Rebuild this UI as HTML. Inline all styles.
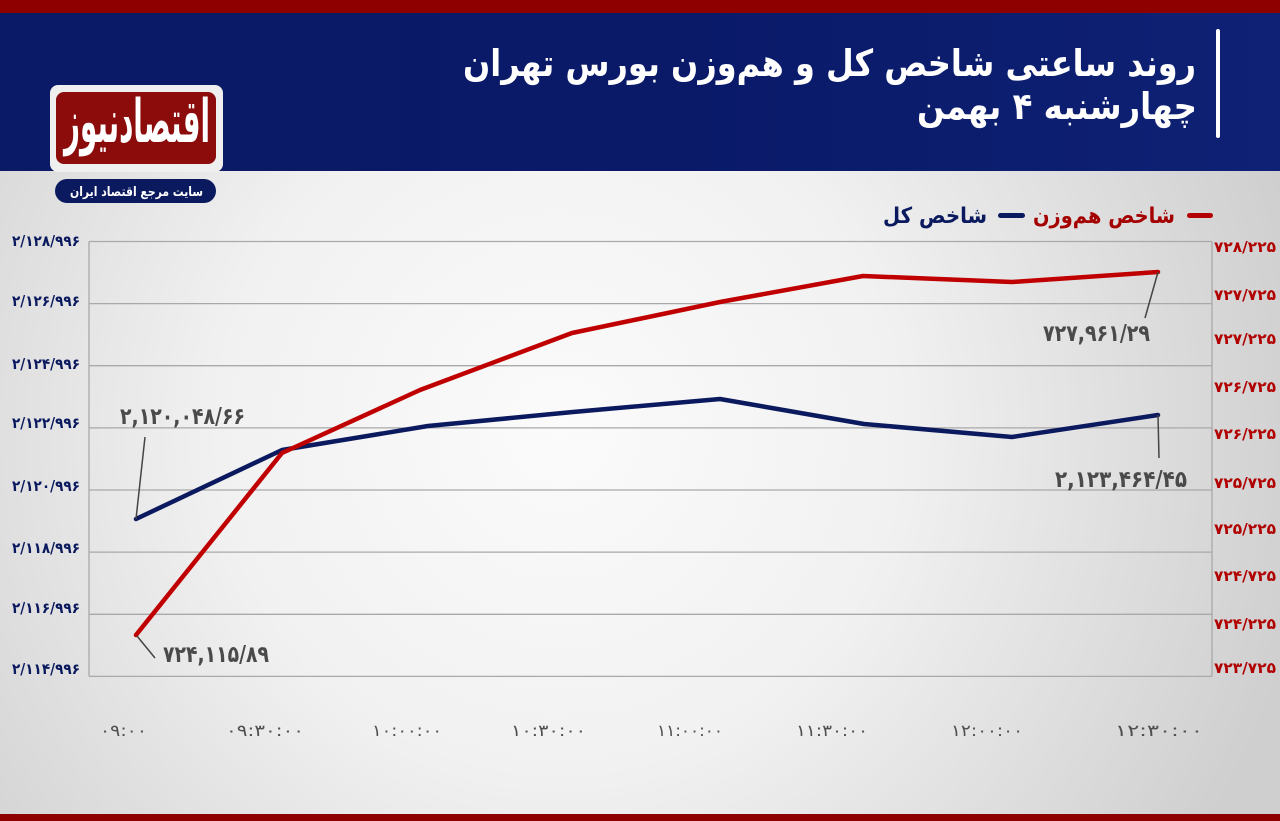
<!DOCTYPE html>
<html><head><meta charset="utf-8">
<style>
html,body{margin:0;padding:0;width:1280px;height:821px;overflow:hidden;background:#e8e8e8}
svg{display:block}
text{font-family:"DejaVu Sans","Liberation Sans",sans-serif}
</style></head>
<body>
<svg width="1280" height="821" viewBox="0 0 1280 821" xmlns="http://www.w3.org/2000/svg">
<defs>
<radialGradient id="bg" cx="560" cy="430" r="760" gradientUnits="userSpaceOnUse">
<stop offset="0" stop-color="#fbfbfb"/>
<stop offset="0.45" stop-color="#f1f1f1"/>
<stop offset="1" stop-color="#cfcfcf"/>
</radialGradient>
<linearGradient id="hd" x1="0" y1="0" x2="1" y2="0">
<stop offset="0" stop-color="#0b1a66"/>
<stop offset="0.5" stop-color="#0a1968"/>
<stop offset="1" stop-color="#0e2174"/>
</linearGradient>
<clipPath id="lc"><rect x="56" y="92" width="160" height="72" rx="8"/></clipPath>
</defs>
<rect x="0" y="0" width="1280" height="821" fill="url(#bg)"/>
<rect x="0" y="0" width="1280" height="13" fill="#8e0000"/>
<rect x="0" y="13" width="1280" height="158" fill="url(#hd)"/>
<rect x="0" y="814" width="1280" height="7" fill="#8e0000"/>

<!-- title -->
<text x="463" y="76" font-size="37" font-weight="bold" fill="#ffffff" textLength="733" lengthAdjust="spacingAndGlyphs">روند ساعتی شاخص کل و هم‌وزن بورس تهران</text>
<text x="917" y="119" font-size="37" font-weight="bold" fill="#ffffff" textLength="280" lengthAdjust="spacingAndGlyphs">چهارشنبه ۴ بهمن</text>
<rect x="1216" y="29" width="4" height="109" rx="2" fill="#ffffff"/>

<!-- logo -->
<rect x="50" y="85" width="173" height="87" rx="8" fill="#efefef"/>
<rect x="56" y="92" width="160" height="72" rx="8" fill="#8c0c0c"/>
<g clip-path="url(#lc)">
<g transform="translate(0,142) scale(1,1.3) translate(0,-142)">
<text x="64" y="142" font-size="46" font-weight="bold" fill="#ffffff" textLength="146" lengthAdjust="spacingAndGlyphs">اقتصادنیوز</text>
</g>
</g>
<rect x="55" y="179" width="161" height="24" rx="12" fill="#0b1a5e"/>
<text x="70" y="196" font-size="13" font-weight="bold" fill="#ffffff" textLength="133" lengthAdjust="spacingAndGlyphs">سایت مرجع اقتصاد ایران</text>

<!-- legend -->
<rect x="1187" y="213" width="26" height="5" rx="2.5" fill="#b30000"/>
<text x="1033" y="223" font-size="22" font-weight="bold" fill="#a50000" textLength="142" lengthAdjust="spacingAndGlyphs">شاخص هم‌وزن</text>
<rect x="998" y="213" width="27" height="5" rx="2.5" fill="#0b1a5e"/>
<text x="883" y="223" font-size="22" font-weight="bold" fill="#0b1a5e" textLength="104" lengthAdjust="spacingAndGlyphs">شاخص کل</text>

<!-- grid -->
<g stroke="#a9a9a9" stroke-width="1.3">
<line x1="89" y1="241.5" x2="1212" y2="241.5"/>
<line x1="89" y1="303.6" x2="1212" y2="303.6"/>
<line x1="89" y1="365.7" x2="1212" y2="365.7"/>
<line x1="89" y1="427.9" x2="1212" y2="427.9"/>
<line x1="89" y1="490" x2="1212" y2="490"/>
<line x1="89" y1="552.1" x2="1212" y2="552.1"/>
<line x1="89" y1="614.3" x2="1212" y2="614.3"/>
<line x1="89" y1="676.4" x2="1212" y2="676.4"/>
<line x1="89" y1="241.5" x2="89" y2="676.4"/>
<line x1="1212" y1="241.5" x2="1212" y2="676.4"/>
</g>

<!-- left axis -->
<g font-size="15" font-weight="bold" fill="#0b1a5e">
<text x="12" y="246" textLength="68" lengthAdjust="spacingAndGlyphs">۲/۱۲۸/۹۹۶</text>
<text x="12" y="306" textLength="68" lengthAdjust="spacingAndGlyphs">۲/۱۲۶/۹۹۶</text>
<text x="12" y="369" textLength="68" lengthAdjust="spacingAndGlyphs">۲/۱۲۴/۹۹۶</text>
<text x="12" y="428" textLength="68" lengthAdjust="spacingAndGlyphs">۲/۱۲۲/۹۹۶</text>
<text x="12" y="491" textLength="68" lengthAdjust="spacingAndGlyphs">۲/۱۲۰/۹۹۶</text>
<text x="12" y="553" textLength="68" lengthAdjust="spacingAndGlyphs">۲/۱۱۸/۹۹۶</text>
<text x="12" y="613" textLength="68" lengthAdjust="spacingAndGlyphs">۲/۱۱۶/۹۹۶</text>
<text x="12" y="674" textLength="68" lengthAdjust="spacingAndGlyphs">۲/۱۱۴/۹۹۶</text>
</g>

<!-- right axis -->
<g font-size="15" font-weight="bold" fill="#b00000">
<text x="1214" y="252" textLength="62" lengthAdjust="spacingAndGlyphs">۷۲۸/۲۲۵</text>
<text x="1214" y="300" textLength="62" lengthAdjust="spacingAndGlyphs">۷۲۷/۷۲۵</text>
<text x="1214" y="344" textLength="62" lengthAdjust="spacingAndGlyphs">۷۲۷/۲۲۵</text>
<text x="1214" y="392" textLength="62" lengthAdjust="spacingAndGlyphs">۷۲۶/۷۲۵</text>
<text x="1214" y="439" textLength="62" lengthAdjust="spacingAndGlyphs">۷۲۶/۲۲۵</text>
<text x="1214" y="488" textLength="62" lengthAdjust="spacingAndGlyphs">۷۲۵/۷۲۵</text>
<text x="1214" y="534" textLength="62" lengthAdjust="spacingAndGlyphs">۷۲۵/۲۲۵</text>
<text x="1214" y="581" textLength="62" lengthAdjust="spacingAndGlyphs">۷۲۴/۷۲۵</text>
<text x="1214" y="629" textLength="62" lengthAdjust="spacingAndGlyphs">۷۲۴/۲۲۵</text>
<text x="1214" y="673" textLength="62" lengthAdjust="spacingAndGlyphs">۷۲۳/۷۲۵</text>
</g>

<!-- x axis -->
<g font-size="16" fill="#4f4f4f">
<text x="100" y="736" textLength="47" lengthAdjust="spacingAndGlyphs">۰۹:۰۰</text>
<text x="226" y="736" textLength="78" lengthAdjust="spacingAndGlyphs">۰۹:۳۰:۰۰</text>
<text x="372" y="736" textLength="70" lengthAdjust="spacingAndGlyphs">۱۰:۰۰:۰۰</text>
<text x="511" y="736" textLength="75" lengthAdjust="spacingAndGlyphs">۱۰:۳۰:۰۰</text>
<text x="657" y="736" textLength="66" lengthAdjust="spacingAndGlyphs">۱۱:۰۰:۰۰</text>
<text x="796" y="736" textLength="72" lengthAdjust="spacingAndGlyphs">۱۱:۳۰:۰۰</text>
<text x="951" y="736" textLength="72" lengthAdjust="spacingAndGlyphs">۱۲:۰۰:۰۰</text>
<text x="1115" y="736" textLength="88" lengthAdjust="spacingAndGlyphs">۱۲:۳۰:۰۰</text>
</g>

<!-- series -->
<polyline fill="none" stroke="#0b1a5e" stroke-width="4.5" stroke-linejoin="round" stroke-linecap="round"
 points="136,519 282,450 428,426 573,412 720,399 864,424 1012,437 1158,415"/>
<polyline fill="none" stroke="#c00000" stroke-width="4.5" stroke-linejoin="round" stroke-linecap="round"
 points="136,635 282,453 420,390 572,333 720,302 863,276 1012,282 1158,272"/>

<!-- leader lines -->
<g stroke="#444" stroke-width="1.5">
<line x1="145" y1="437" x2="136" y2="519"/>
<line x1="137" y1="636" x2="155" y2="658"/>
<line x1="1158" y1="272" x2="1145" y2="318"/>
<line x1="1158" y1="415" x2="1159" y2="458"/>
</g>

<!-- annotations -->
<g font-size="23" font-weight="bold" fill="#4a4a4a">
<text x="120" y="424" textLength="125" lengthAdjust="spacingAndGlyphs">۲,۱۲۰,۰۴۸/۶۶</text>
<text x="163" y="662" textLength="106" lengthAdjust="spacingAndGlyphs">۷۲۴,۱۱۵/۸۹</text>
<text x="1043" y="341" textLength="107" lengthAdjust="spacingAndGlyphs">۷۲۷,۹۶۱/۲۹</text>
<text x="1055" y="487" textLength="132" lengthAdjust="spacingAndGlyphs">۲,۱۲۳,۴۶۴/۴۵</text>
</g>
</svg>
</body></html>
